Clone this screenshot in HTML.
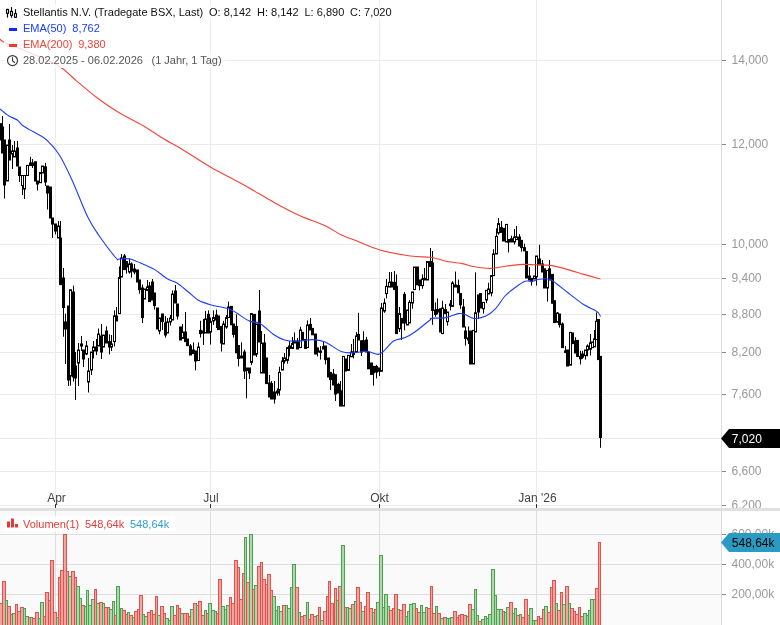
<!DOCTYPE html>
<html lang="de"><head><meta charset="utf-8"><title>Stellantis N.V. Chart</title>
<style>
html,body{margin:0;padding:0;background:#fff;}
body{width:780px;height:625px;overflow:hidden;font-family:"Liberation Sans",Arial,sans-serif;}
svg{display:block;font-family:"Liberation Sans",Arial,sans-serif;}
.ax{font-size:12px;fill:#999;}
.tx{font-size:12px;fill:#444;}
.lg{font-size:11px;}
</style></head><body>
<svg width="780" height="625" viewBox="0 0 780 625">
<rect x="0" y="0" width="780" height="625" fill="#fff"/>
<rect x="0" y="511" width="722" height="114" fill="#fafafa"/>
<g stroke="#ebebeb" stroke-width="1" shape-rendering="crispEdges">
<line x1="0" y1="60.5" x2="721.5" y2="60.5"/>
<line x1="0" y1="144.5" x2="721.5" y2="144.5"/>
<line x1="0" y1="244.5" x2="721.5" y2="244.5"/>
<line x1="0" y1="278.5" x2="721.5" y2="278.5"/>
<line x1="0" y1="314.5" x2="721.5" y2="314.5"/>
<line x1="0" y1="352.5" x2="721.5" y2="352.5"/>
<line x1="0" y1="394.5" x2="721.5" y2="394.5"/>
<line x1="0" y1="438.5" x2="721.5" y2="438.5"/>
<line x1="0" y1="471.5" x2="721.5" y2="471.5"/>
<line x1="0" y1="505.5" x2="721.5" y2="505.5"/>
<line x1="55.5" y1="0" x2="55.5" y2="508"/>
<line x1="210.5" y1="0" x2="210.5" y2="508"/>
<line x1="379.5" y1="0" x2="379.5" y2="508"/>
<line x1="536.5" y1="0" x2="536.5" y2="508"/>
</g>
<g stroke="#dedede" stroke-width="1" shape-rendering="crispEdges">
<line x1="0" y1="534.5" x2="721.5" y2="534.5"/>
<line x1="0" y1="564.5" x2="721.5" y2="564.5"/>
<line x1="0" y1="594.5" x2="721.5" y2="594.5"/>
<line x1="55.5" y1="511" x2="55.5" y2="625"/>
<line x1="210.5" y1="511" x2="210.5" y2="625"/>
<line x1="379.5" y1="511" x2="379.5" y2="625"/>
<line x1="536.5" y1="511" x2="536.5" y2="625"/>
</g>
<g stroke-width="1">
<rect x="-0.5" y="603.5" width="3" height="23.5" fill="#f2a4a2" stroke="#e0524a"/>
<rect x="2.5" y="581.5" width="3" height="45.5" fill="#f2a4a2" stroke="#e0524a"/>
<rect x="5.5" y="600.5" width="2" height="26.5" fill="#abd9aa" stroke="#4f9f50"/>
<rect x="7.5" y="606.5" width="3" height="20.5" fill="#f2a4a2" stroke="#e0524a"/>
<rect x="10.5" y="614.5" width="2" height="12.5" fill="#f2a4a2" stroke="#e0524a"/>
<rect x="12.5" y="613.5" width="3" height="13.5" fill="#abd9aa" stroke="#4f9f50"/>
<rect x="15.5" y="604.5" width="2" height="22.5" fill="#f2a4a2" stroke="#e0524a"/>
<rect x="17.5" y="611.5" width="3" height="15.5" fill="#f2a4a2" stroke="#e0524a"/>
<rect x="20.5" y="607.5" width="3" height="19.5" fill="#f2a4a2" stroke="#e0524a"/>
<rect x="23.5" y="608.5" width="2" height="18.5" fill="#abd9aa" stroke="#4f9f50"/>
<rect x="25.5" y="616.5" width="3" height="10.5" fill="#abd9aa" stroke="#4f9f50"/>
<rect x="28.5" y="617.5" width="2" height="9.5" fill="#f2a4a2" stroke="#e0524a"/>
<rect x="30.5" y="617.5" width="2" height="9.5" fill="#abd9aa" stroke="#4f9f50"/>
<rect x="32.5" y="618.5" width="3" height="8.5" fill="#f2a4a2" stroke="#e0524a"/>
<rect x="35.5" y="612.5" width="3" height="14.5" fill="#f2a4a2" stroke="#e0524a"/>
<rect x="38.5" y="618.5" width="2" height="8.5" fill="#abd9aa" stroke="#4f9f50"/>
<rect x="40.5" y="602.5" width="3" height="24.5" fill="#abd9aa" stroke="#4f9f50"/>
<rect x="43.5" y="616.5" width="2" height="10.5" fill="#f2a4a2" stroke="#e0524a"/>
<rect x="45.5" y="592.5" width="3" height="34.5" fill="#f2a4a2" stroke="#e0524a"/>
<rect x="48.5" y="600.5" width="2" height="26.5" fill="#f2a4a2" stroke="#e0524a"/>
<rect x="50.5" y="560.5" width="3" height="66.5" fill="#f2a4a2" stroke="#e0524a"/>
<rect x="53.5" y="612.5" width="3" height="14.5" fill="#f2a4a2" stroke="#e0524a"/>
<rect x="56.5" y="617.5" width="2" height="9.5" fill="#abd9aa" stroke="#4f9f50"/>
<rect x="58.5" y="577.5" width="2" height="49.5" fill="#f2a4a2" stroke="#e0524a"/>
<rect x="60.5" y="570.5" width="3" height="56.5" fill="#f2a4a2" stroke="#e0524a"/>
<rect x="63.5" y="534.5" width="3" height="92.5" fill="#f2a4a2" stroke="#e0524a"/>
<rect x="66.5" y="571.5" width="2" height="55.5" fill="#f2a4a2" stroke="#e0524a"/>
<rect x="68.5" y="576.5" width="3" height="50.5" fill="#abd9aa" stroke="#4f9f50"/>
<rect x="71.5" y="571.5" width="3" height="55.5" fill="#f2a4a2" stroke="#e0524a"/>
<rect x="74.5" y="577.5" width="2" height="49.5" fill="#f2a4a2" stroke="#e0524a"/>
<rect x="76.5" y="586.5" width="3" height="40.5" fill="#abd9aa" stroke="#4f9f50"/>
<rect x="79.5" y="598.5" width="2" height="28.5" fill="#abd9aa" stroke="#4f9f50"/>
<rect x="81.5" y="605.5" width="3" height="21.5" fill="#f2a4a2" stroke="#e0524a"/>
<rect x="84.5" y="606.5" width="2" height="20.5" fill="#abd9aa" stroke="#4f9f50"/>
<rect x="86.5" y="590.5" width="2" height="36.5" fill="#abd9aa" stroke="#4f9f50"/>
<rect x="88.5" y="605.5" width="3" height="21.5" fill="#abd9aa" stroke="#4f9f50"/>
<rect x="91.5" y="599.5" width="3" height="27.5" fill="#abd9aa" stroke="#4f9f50"/>
<rect x="94.5" y="589.5" width="2" height="37.5" fill="#f2a4a2" stroke="#e0524a"/>
<rect x="96.5" y="603.5" width="3" height="23.5" fill="#abd9aa" stroke="#4f9f50"/>
<rect x="99.5" y="602.5" width="3" height="24.5" fill="#f2a4a2" stroke="#e0524a"/>
<rect x="102.5" y="603.5" width="2" height="23.5" fill="#abd9aa" stroke="#4f9f50"/>
<rect x="104.5" y="607.5" width="3" height="19.5" fill="#f2a4a2" stroke="#e0524a"/>
<rect x="107.5" y="607.5" width="2" height="19.5" fill="#f2a4a2" stroke="#e0524a"/>
<rect x="109.5" y="609.5" width="3" height="17.5" fill="#abd9aa" stroke="#4f9f50"/>
<rect x="112.5" y="601.5" width="2" height="25.5" fill="#abd9aa" stroke="#4f9f50"/>
<rect x="114.5" y="615.5" width="2" height="11.5" fill="#f2a4a2" stroke="#e0524a"/>
<rect x="116.5" y="586.5" width="3" height="40.5" fill="#abd9aa" stroke="#4f9f50"/>
<rect x="120.5" y="608.5" width="2" height="18.5" fill="#abd9aa" stroke="#4f9f50"/>
<rect x="122.5" y="610.5" width="3" height="16.5" fill="#f2a4a2" stroke="#e0524a"/>
<rect x="125.5" y="614.5" width="2" height="12.5" fill="#f2a4a2" stroke="#e0524a"/>
<rect x="127.5" y="612.5" width="2" height="14.5" fill="#abd9aa" stroke="#4f9f50"/>
<rect x="129.5" y="615.5" width="3" height="11.5" fill="#f2a4a2" stroke="#e0524a"/>
<rect x="132.5" y="617.5" width="2" height="9.5" fill="#abd9aa" stroke="#4f9f50"/>
<rect x="134.5" y="611.5" width="3" height="15.5" fill="#f2a4a2" stroke="#e0524a"/>
<rect x="137.5" y="609.5" width="2" height="17.5" fill="#f2a4a2" stroke="#e0524a"/>
<rect x="139.5" y="595.5" width="3" height="31.5" fill="#f2a4a2" stroke="#e0524a"/>
<rect x="142.5" y="614.5" width="2" height="12.5" fill="#abd9aa" stroke="#4f9f50"/>
<rect x="144.5" y="616.5" width="3" height="10.5" fill="#abd9aa" stroke="#4f9f50"/>
<rect x="147.5" y="612.5" width="3" height="14.5" fill="#f2a4a2" stroke="#e0524a"/>
<rect x="150.5" y="610.5" width="2" height="16.5" fill="#f2a4a2" stroke="#e0524a"/>
<rect x="152.5" y="614.5" width="3" height="12.5" fill="#f2a4a2" stroke="#e0524a"/>
<rect x="155.5" y="596.5" width="2" height="30.5" fill="#f2a4a2" stroke="#e0524a"/>
<rect x="157.5" y="615.5" width="3" height="11.5" fill="#abd9aa" stroke="#4f9f50"/>
<rect x="160.5" y="606.5" width="3" height="20.5" fill="#f2a4a2" stroke="#e0524a"/>
<rect x="163.5" y="613.5" width="2" height="13.5" fill="#f2a4a2" stroke="#e0524a"/>
<rect x="165.5" y="618.5" width="3" height="8.5" fill="#abd9aa" stroke="#4f9f50"/>
<rect x="168.5" y="620.5" width="2" height="6.5" fill="#abd9aa" stroke="#4f9f50"/>
<rect x="170.5" y="606.5" width="3" height="20.5" fill="#abd9aa" stroke="#4f9f50"/>
<rect x="173.5" y="615.5" width="3" height="11.5" fill="#f2a4a2" stroke="#e0524a"/>
<rect x="176.5" y="605.5" width="2" height="21.5" fill="#f2a4a2" stroke="#e0524a"/>
<rect x="178.5" y="608.5" width="2" height="18.5" fill="#f2a4a2" stroke="#e0524a"/>
<rect x="180.5" y="613.5" width="3" height="13.5" fill="#abd9aa" stroke="#4f9f50"/>
<rect x="183.5" y="613.5" width="3" height="13.5" fill="#f2a4a2" stroke="#e0524a"/>
<rect x="186.5" y="613.5" width="2" height="13.5" fill="#f2a4a2" stroke="#e0524a"/>
<rect x="188.5" y="616.5" width="2" height="10.5" fill="#f2a4a2" stroke="#e0524a"/>
<rect x="190.5" y="609.5" width="3" height="17.5" fill="#abd9aa" stroke="#4f9f50"/>
<rect x="193.5" y="603.5" width="3" height="23.5" fill="#f2a4a2" stroke="#e0524a"/>
<rect x="196.5" y="605.5" width="2" height="21.5" fill="#abd9aa" stroke="#4f9f50"/>
<rect x="198.5" y="601.5" width="3" height="25.5" fill="#f2a4a2" stroke="#e0524a"/>
<rect x="201.5" y="615.5" width="3" height="11.5" fill="#f2a4a2" stroke="#e0524a"/>
<rect x="204.5" y="610.5" width="2" height="16.5" fill="#abd9aa" stroke="#4f9f50"/>
<rect x="206.5" y="613.5" width="2" height="13.5" fill="#f2a4a2" stroke="#e0524a"/>
<rect x="208.5" y="603.5" width="3" height="23.5" fill="#abd9aa" stroke="#4f9f50"/>
<rect x="211.5" y="610.5" width="3" height="16.5" fill="#abd9aa" stroke="#4f9f50"/>
<rect x="214.5" y="611.5" width="2" height="15.5" fill="#abd9aa" stroke="#4f9f50"/>
<rect x="216.5" y="613.5" width="2" height="13.5" fill="#f2a4a2" stroke="#e0524a"/>
<rect x="218.5" y="579.5" width="3" height="47.5" fill="#f2a4a2" stroke="#e0524a"/>
<rect x="221.5" y="606.5" width="3" height="20.5" fill="#abd9aa" stroke="#4f9f50"/>
<rect x="224.5" y="609.5" width="2" height="17.5" fill="#abd9aa" stroke="#4f9f50"/>
<rect x="226.5" y="605.5" width="3" height="21.5" fill="#abd9aa" stroke="#4f9f50"/>
<rect x="229.5" y="597.5" width="2" height="29.5" fill="#f2a4a2" stroke="#e0524a"/>
<rect x="231.5" y="603.5" width="3" height="23.5" fill="#f2a4a2" stroke="#e0524a"/>
<rect x="234.5" y="560.5" width="3" height="66.5" fill="#f2a4a2" stroke="#e0524a"/>
<rect x="237.5" y="567.5" width="2" height="59.5" fill="#f2a4a2" stroke="#e0524a"/>
<rect x="239.5" y="599.5" width="3" height="27.5" fill="#f2a4a2" stroke="#e0524a"/>
<rect x="242.5" y="573.5" width="2" height="53.5" fill="#f2a4a2" stroke="#e0524a"/>
<rect x="244.5" y="537.5" width="2" height="89.5" fill="#abd9aa" stroke="#4f9f50"/>
<rect x="246.5" y="582.5" width="3" height="44.5" fill="#f2a4a2" stroke="#e0524a"/>
<rect x="249.5" y="534.5" width="3" height="92.5" fill="#abd9aa" stroke="#4f9f50"/>
<rect x="252.5" y="589.5" width="2" height="37.5" fill="#f2a4a2" stroke="#e0524a"/>
<rect x="254.5" y="585.5" width="3" height="41.5" fill="#abd9aa" stroke="#4f9f50"/>
<rect x="257.5" y="566.5" width="3" height="60.5" fill="#f2a4a2" stroke="#e0524a"/>
<rect x="260.5" y="562.5" width="2" height="64.5" fill="#f2a4a2" stroke="#e0524a"/>
<rect x="262.5" y="579.5" width="3" height="47.5" fill="#f2a4a2" stroke="#e0524a"/>
<rect x="265.5" y="584.5" width="2" height="42.5" fill="#f2a4a2" stroke="#e0524a"/>
<rect x="267.5" y="574.5" width="3" height="52.5" fill="#f2a4a2" stroke="#e0524a"/>
<rect x="270.5" y="590.5" width="2" height="36.5" fill="#f2a4a2" stroke="#e0524a"/>
<rect x="272.5" y="596.5" width="3" height="30.5" fill="#abd9aa" stroke="#4f9f50"/>
<rect x="275.5" y="610.5" width="2" height="16.5" fill="#abd9aa" stroke="#4f9f50"/>
<rect x="277.5" y="606.5" width="2" height="20.5" fill="#abd9aa" stroke="#4f9f50"/>
<rect x="279.5" y="611.5" width="3" height="15.5" fill="#abd9aa" stroke="#4f9f50"/>
<rect x="282.5" y="605.5" width="3" height="21.5" fill="#f2a4a2" stroke="#e0524a"/>
<rect x="285.5" y="605.5" width="2" height="21.5" fill="#abd9aa" stroke="#4f9f50"/>
<rect x="287.5" y="608.5" width="3" height="18.5" fill="#abd9aa" stroke="#4f9f50"/>
<rect x="290.5" y="587.5" width="2" height="39.5" fill="#abd9aa" stroke="#4f9f50"/>
<rect x="292.5" y="564.5" width="3" height="62.5" fill="#abd9aa" stroke="#4f9f50"/>
<rect x="295.5" y="587.5" width="3" height="39.5" fill="#f2a4a2" stroke="#e0524a"/>
<rect x="298.5" y="612.5" width="2" height="14.5" fill="#abd9aa" stroke="#4f9f50"/>
<rect x="300.5" y="616.5" width="3" height="10.5" fill="#f2a4a2" stroke="#e0524a"/>
<rect x="303.5" y="615.5" width="3" height="11.5" fill="#f2a4a2" stroke="#e0524a"/>
<rect x="306.5" y="602.5" width="2" height="24.5" fill="#abd9aa" stroke="#4f9f50"/>
<rect x="308.5" y="619.5" width="2" height="7.5" fill="#f2a4a2" stroke="#e0524a"/>
<rect x="310.5" y="614.5" width="3" height="12.5" fill="#f2a4a2" stroke="#e0524a"/>
<rect x="313.5" y="616.5" width="3" height="10.5" fill="#f2a4a2" stroke="#e0524a"/>
<rect x="316.5" y="615.5" width="2" height="11.5" fill="#abd9aa" stroke="#4f9f50"/>
<rect x="318.5" y="607.5" width="2" height="19.5" fill="#f2a4a2" stroke="#e0524a"/>
<rect x="320.5" y="620.5" width="3" height="6.5" fill="#abd9aa" stroke="#4f9f50"/>
<rect x="323.5" y="611.5" width="3" height="15.5" fill="#f2a4a2" stroke="#e0524a"/>
<rect x="326.5" y="596.5" width="2" height="30.5" fill="#f2a4a2" stroke="#e0524a"/>
<rect x="328.5" y="581.5" width="2" height="45.5" fill="#f2a4a2" stroke="#e0524a"/>
<rect x="330.5" y="603.5" width="3" height="23.5" fill="#f2a4a2" stroke="#e0524a"/>
<rect x="334.5" y="588.5" width="2" height="38.5" fill="#f2a4a2" stroke="#e0524a"/>
<rect x="336.5" y="600.5" width="2" height="26.5" fill="#abd9aa" stroke="#4f9f50"/>
<rect x="338.5" y="586.5" width="3" height="40.5" fill="#f2a4a2" stroke="#e0524a"/>
<rect x="341.5" y="545.5" width="3" height="81.5" fill="#abd9aa" stroke="#4f9f50"/>
<rect x="344.5" y="607.5" width="2" height="19.5" fill="#f2a4a2" stroke="#e0524a"/>
<rect x="346.5" y="607.5" width="2" height="19.5" fill="#abd9aa" stroke="#4f9f50"/>
<rect x="348.5" y="608.5" width="3" height="18.5" fill="#abd9aa" stroke="#4f9f50"/>
<rect x="351.5" y="604.5" width="3" height="22.5" fill="#f2a4a2" stroke="#e0524a"/>
<rect x="354.5" y="601.5" width="2" height="25.5" fill="#abd9aa" stroke="#4f9f50"/>
<rect x="356.5" y="587.5" width="3" height="39.5" fill="#f2a4a2" stroke="#e0524a"/>
<rect x="359.5" y="602.5" width="2" height="24.5" fill="#f2a4a2" stroke="#e0524a"/>
<rect x="361.5" y="611.5" width="3" height="15.5" fill="#abd9aa" stroke="#4f9f50"/>
<rect x="364.5" y="606.5" width="2" height="20.5" fill="#f2a4a2" stroke="#e0524a"/>
<rect x="366.5" y="592.5" width="3" height="34.5" fill="#f2a4a2" stroke="#e0524a"/>
<rect x="369.5" y="608.5" width="3" height="18.5" fill="#f2a4a2" stroke="#e0524a"/>
<rect x="372.5" y="612.5" width="2" height="14.5" fill="#abd9aa" stroke="#4f9f50"/>
<rect x="374.5" y="609.5" width="2" height="17.5" fill="#f2a4a2" stroke="#e0524a"/>
<rect x="376.5" y="602.5" width="3" height="24.5" fill="#abd9aa" stroke="#4f9f50"/>
<rect x="379.5" y="555.5" width="3" height="71.5" fill="#abd9aa" stroke="#4f9f50"/>
<rect x="382.5" y="607.5" width="2" height="19.5" fill="#abd9aa" stroke="#4f9f50"/>
<rect x="384.5" y="594.5" width="3" height="32.5" fill="#abd9aa" stroke="#4f9f50"/>
<rect x="387.5" y="606.5" width="2" height="20.5" fill="#abd9aa" stroke="#4f9f50"/>
<rect x="389.5" y="610.5" width="3" height="16.5" fill="#f2a4a2" stroke="#e0524a"/>
<rect x="392.5" y="608.5" width="2" height="18.5" fill="#f2a4a2" stroke="#e0524a"/>
<rect x="394.5" y="594.5" width="3" height="32.5" fill="#f2a4a2" stroke="#e0524a"/>
<rect x="397.5" y="609.5" width="2" height="17.5" fill="#abd9aa" stroke="#4f9f50"/>
<rect x="399.5" y="610.5" width="3" height="16.5" fill="#f2a4a2" stroke="#e0524a"/>
<rect x="402.5" y="604.5" width="3" height="22.5" fill="#f2a4a2" stroke="#e0524a"/>
<rect x="405.5" y="616.5" width="2" height="10.5" fill="#abd9aa" stroke="#4f9f50"/>
<rect x="407.5" y="611.5" width="2" height="15.5" fill="#abd9aa" stroke="#4f9f50"/>
<rect x="409.5" y="604.5" width="3" height="22.5" fill="#abd9aa" stroke="#4f9f50"/>
<rect x="412.5" y="603.5" width="3" height="23.5" fill="#abd9aa" stroke="#4f9f50"/>
<rect x="415.5" y="608.5" width="2" height="18.5" fill="#f2a4a2" stroke="#e0524a"/>
<rect x="417.5" y="612.5" width="3" height="14.5" fill="#f2a4a2" stroke="#e0524a"/>
<rect x="420.5" y="605.5" width="2" height="21.5" fill="#abd9aa" stroke="#4f9f50"/>
<rect x="422.5" y="612.5" width="3" height="14.5" fill="#abd9aa" stroke="#4f9f50"/>
<rect x="425.5" y="607.5" width="2" height="19.5" fill="#abd9aa" stroke="#4f9f50"/>
<rect x="427.5" y="608.5" width="3" height="18.5" fill="#f2a4a2" stroke="#e0524a"/>
<rect x="430.5" y="586.5" width="2" height="40.5" fill="#f2a4a2" stroke="#e0524a"/>
<rect x="432.5" y="613.5" width="3" height="13.5" fill="#f2a4a2" stroke="#e0524a"/>
<rect x="435.5" y="606.5" width="2" height="20.5" fill="#abd9aa" stroke="#4f9f50"/>
<rect x="437.5" y="613.5" width="3" height="13.5" fill="#f2a4a2" stroke="#e0524a"/>
<rect x="440.5" y="618.5" width="3" height="8.5" fill="#abd9aa" stroke="#4f9f50"/>
<rect x="443.5" y="617.5" width="3" height="9.5" fill="#f2a4a2" stroke="#e0524a"/>
<rect x="446.5" y="618.5" width="2" height="8.5" fill="#abd9aa" stroke="#4f9f50"/>
<rect x="448.5" y="618.5" width="2" height="8.5" fill="#abd9aa" stroke="#4f9f50"/>
<rect x="450.5" y="617.5" width="3" height="9.5" fill="#abd9aa" stroke="#4f9f50"/>
<rect x="453.5" y="611.5" width="3" height="15.5" fill="#f2a4a2" stroke="#e0524a"/>
<rect x="456.5" y="617.5" width="2" height="9.5" fill="#f2a4a2" stroke="#e0524a"/>
<rect x="458.5" y="615.5" width="2" height="11.5" fill="#f2a4a2" stroke="#e0524a"/>
<rect x="460.5" y="614.5" width="3" height="12.5" fill="#f2a4a2" stroke="#e0524a"/>
<rect x="463.5" y="615.5" width="3" height="11.5" fill="#f2a4a2" stroke="#e0524a"/>
<rect x="466.5" y="616.5" width="2" height="10.5" fill="#abd9aa" stroke="#4f9f50"/>
<rect x="468.5" y="604.5" width="3" height="22.5" fill="#f2a4a2" stroke="#e0524a"/>
<rect x="471.5" y="609.5" width="3" height="17.5" fill="#abd9aa" stroke="#4f9f50"/>
<rect x="474.5" y="589.5" width="2" height="37.5" fill="#abd9aa" stroke="#4f9f50"/>
<rect x="476.5" y="615.5" width="2" height="11.5" fill="#abd9aa" stroke="#4f9f50"/>
<rect x="478.5" y="621.5" width="3" height="5.5" fill="#f2a4a2" stroke="#e0524a"/>
<rect x="481.5" y="619.5" width="3" height="7.5" fill="#abd9aa" stroke="#4f9f50"/>
<rect x="484.5" y="616.5" width="2" height="10.5" fill="#abd9aa" stroke="#4f9f50"/>
<rect x="486.5" y="618.5" width="2" height="8.5" fill="#abd9aa" stroke="#4f9f50"/>
<rect x="488.5" y="614.5" width="3" height="12.5" fill="#abd9aa" stroke="#4f9f50"/>
<rect x="491.5" y="569.5" width="3" height="57.5" fill="#abd9aa" stroke="#4f9f50"/>
<rect x="494.5" y="595.5" width="2" height="31.5" fill="#abd9aa" stroke="#4f9f50"/>
<rect x="496.5" y="609.5" width="3" height="17.5" fill="#abd9aa" stroke="#4f9f50"/>
<rect x="499.5" y="609.5" width="3" height="17.5" fill="#abd9aa" stroke="#4f9f50"/>
<rect x="502.5" y="611.5" width="2" height="15.5" fill="#f2a4a2" stroke="#e0524a"/>
<rect x="504.5" y="612.5" width="2" height="14.5" fill="#abd9aa" stroke="#4f9f50"/>
<rect x="506.5" y="607.5" width="3" height="19.5" fill="#abd9aa" stroke="#4f9f50"/>
<rect x="509.5" y="602.5" width="3" height="24.5" fill="#f2a4a2" stroke="#e0524a"/>
<rect x="512.5" y="613.5" width="2" height="13.5" fill="#abd9aa" stroke="#4f9f50"/>
<rect x="514.5" y="608.5" width="2" height="18.5" fill="#abd9aa" stroke="#4f9f50"/>
<rect x="516.5" y="615.5" width="3" height="11.5" fill="#f2a4a2" stroke="#e0524a"/>
<rect x="519.5" y="614.5" width="2" height="12.5" fill="#abd9aa" stroke="#4f9f50"/>
<rect x="521.5" y="617.5" width="3" height="9.5" fill="#f2a4a2" stroke="#e0524a"/>
<rect x="524.5" y="599.5" width="3" height="27.5" fill="#f2a4a2" stroke="#e0524a"/>
<rect x="527.5" y="615.5" width="2" height="11.5" fill="#f2a4a2" stroke="#e0524a"/>
<rect x="529.5" y="608.5" width="3" height="18.5" fill="#abd9aa" stroke="#4f9f50"/>
<rect x="532.5" y="620.5" width="2" height="6.5" fill="#abd9aa" stroke="#4f9f50"/>
<rect x="534.5" y="620.5" width="3" height="6.5" fill="#abd9aa" stroke="#4f9f50"/>
<rect x="537.5" y="616.5" width="2" height="10.5" fill="#f2a4a2" stroke="#e0524a"/>
<rect x="539.5" y="618.5" width="3" height="8.5" fill="#f2a4a2" stroke="#e0524a"/>
<rect x="542.5" y="609.5" width="2" height="17.5" fill="#f2a4a2" stroke="#e0524a"/>
<rect x="544.5" y="606.5" width="3" height="20.5" fill="#abd9aa" stroke="#4f9f50"/>
<rect x="547.5" y="612.5" width="3" height="14.5" fill="#f2a4a2" stroke="#e0524a"/>
<rect x="550.5" y="587.5" width="2" height="39.5" fill="#f2a4a2" stroke="#e0524a"/>
<rect x="552.5" y="580.5" width="3" height="46.5" fill="#f2a4a2" stroke="#e0524a"/>
<rect x="555.5" y="603.5" width="2" height="23.5" fill="#abd9aa" stroke="#4f9f50"/>
<rect x="557.5" y="610.5" width="3" height="16.5" fill="#f2a4a2" stroke="#e0524a"/>
<rect x="560.5" y="592.5" width="2" height="34.5" fill="#f2a4a2" stroke="#e0524a"/>
<rect x="562.5" y="604.5" width="3" height="22.5" fill="#abd9aa" stroke="#4f9f50"/>
<rect x="565.5" y="586.5" width="3" height="40.5" fill="#f2a4a2" stroke="#e0524a"/>
<rect x="568.5" y="603.5" width="2" height="23.5" fill="#abd9aa" stroke="#4f9f50"/>
<rect x="570.5" y="608.5" width="3" height="18.5" fill="#f2a4a2" stroke="#e0524a"/>
<rect x="573.5" y="611.5" width="2" height="15.5" fill="#f2a4a2" stroke="#e0524a"/>
<rect x="575.5" y="614.5" width="3" height="12.5" fill="#f2a4a2" stroke="#e0524a"/>
<rect x="578.5" y="607.5" width="2" height="19.5" fill="#f2a4a2" stroke="#e0524a"/>
<rect x="580.5" y="616.5" width="3" height="10.5" fill="#f2a4a2" stroke="#e0524a"/>
<rect x="583.5" y="613.5" width="3" height="13.5" fill="#abd9aa" stroke="#4f9f50"/>
<rect x="586.5" y="615.5" width="2" height="11.5" fill="#abd9aa" stroke="#4f9f50"/>
<rect x="588.5" y="610.5" width="2" height="16.5" fill="#abd9aa" stroke="#4f9f50"/>
<rect x="590.5" y="599.5" width="3" height="27.5" fill="#abd9aa" stroke="#4f9f50"/>
<rect x="593.5" y="599.5" width="2" height="27.5" fill="#abd9aa" stroke="#4f9f50"/>
<rect x="595.5" y="588.5" width="3" height="38.5" fill="#f2a4a2" stroke="#e0524a"/>
<rect x="598.5" y="542.5" width="2" height="84.5" fill="#f2a4a2" stroke="#e0524a"/>
</g>
<g stroke="#000" stroke-width="1">
<line x1="0.5" y1="123.7" x2="0.5" y2="140.0"/>
<rect x="-0.5" y="123.7" width="2" height="16.3" fill="#000"/>
<line x1="2.5" y1="116.0" x2="2.5" y2="153.0"/>
<rect x="1.5" y="127.0" width="2" height="26.0" fill="#000"/>
<line x1="4.5" y1="140.0" x2="4.5" y2="198.5"/>
<rect x="3.5" y="140.0" width="2" height="45.0" fill="#000"/>
<line x1="7.5" y1="145.0" x2="7.5" y2="181.0"/>
<rect x="6.5" y="145.0" width="2" height="36.0" fill="#fff"/>
<line x1="9.5" y1="124.0" x2="9.5" y2="160.0"/>
<rect x="8.5" y="140.0" width="2" height="20.0" fill="#000"/>
<line x1="12.5" y1="145.0" x2="12.5" y2="169.0"/>
<rect x="11.5" y="151.0" width="2" height="3.0" fill="#fff"/>
<line x1="14.5" y1="141.0" x2="14.5" y2="157.0"/>
<rect x="13.5" y="151.0" width="2" height="6.0" fill="#fff"/>
<line x1="17.5" y1="141.0" x2="17.5" y2="166.0"/>
<rect x="16.5" y="148.0" width="2" height="18.0" fill="#000"/>
<line x1="19.5" y1="167.0" x2="19.5" y2="182.0"/>
<rect x="18.5" y="167.0" width="2" height="8.5" fill="#000"/>
<line x1="22.5" y1="175.5" x2="22.5" y2="195.0"/>
<rect x="21.5" y="175.5" width="2" height="10.0" fill="#fff"/>
<line x1="24.5" y1="175.5" x2="24.5" y2="199.0"/>
<rect x="23.5" y="175.5" width="2" height="13.5" fill="#fff"/>
<line x1="27.5" y1="165.4" x2="27.5" y2="175.5"/>
<rect x="26.5" y="165.4" width="2" height="10.1" fill="#fff"/>
<line x1="30.5" y1="156.8" x2="30.5" y2="165.4"/>
<rect x="29.5" y="163.0" width="2" height="2.4" fill="#000"/>
<line x1="32.5" y1="159.0" x2="32.5" y2="168.0"/>
<rect x="31.5" y="163.0" width="2" height="2.4" fill="#000"/>
<line x1="35.5" y1="161.8" x2="35.5" y2="181.0"/>
<rect x="34.5" y="161.8" width="2" height="19.2" fill="#000"/>
<line x1="37.5" y1="181.0" x2="37.5" y2="190.5"/>
<rect x="36.5" y="181.0" width="2" height="3.0" fill="#000"/>
<line x1="40.5" y1="172.6" x2="40.5" y2="182.7"/>
<rect x="39.5" y="172.6" width="2" height="10.1" fill="#fff"/>
<line x1="42.5" y1="166.0" x2="42.5" y2="173.0"/>
<rect x="41.5" y="166.0" width="2" height="7.0" fill="#fff"/>
<line x1="45.5" y1="163.0" x2="45.5" y2="186.0"/>
<rect x="44.5" y="166.8" width="2" height="15.2" fill="#000"/>
<line x1="47.5" y1="186.0" x2="47.5" y2="209.6"/>
<rect x="46.5" y="186.0" width="2" height="7.0" fill="#000"/>
<line x1="50.5" y1="187.0" x2="50.5" y2="218.0"/>
<rect x="49.5" y="187.0" width="2" height="31.0" fill="#000"/>
<line x1="52.5" y1="218.0" x2="52.5" y2="238.0"/>
<rect x="51.5" y="218.0" width="2" height="6.0" fill="#000"/>
<line x1="55.5" y1="224.0" x2="55.5" y2="234.4"/>
<rect x="54.5" y="224.0" width="2" height="7.0" fill="#000"/>
<line x1="58.5" y1="221.0" x2="58.5" y2="238.0"/>
<rect x="57.5" y="226.0" width="2" height="12.0" fill="#fff"/>
<line x1="60.5" y1="221.0" x2="60.5" y2="284.6"/>
<rect x="59.5" y="238.0" width="2" height="46.6" fill="#000"/>
<line x1="63.5" y1="268.0" x2="63.5" y2="336.7"/>
<rect x="62.5" y="278.0" width="2" height="29.5" fill="#000"/>
<line x1="65.5" y1="313.6" x2="65.5" y2="364.0"/>
<rect x="64.5" y="322.0" width="2" height="7.0" fill="#000"/>
<line x1="68.5" y1="306.0" x2="68.5" y2="386.0"/>
<rect x="67.5" y="306.0" width="2" height="74.0" fill="#000"/>
<line x1="70.5" y1="289.8" x2="70.5" y2="385.6"/>
<rect x="69.5" y="289.8" width="2" height="86.2" fill="#fff"/>
<line x1="73.5" y1="285.6" x2="73.5" y2="381.6"/>
<rect x="72.5" y="292.0" width="2" height="85.0" fill="#000"/>
<line x1="75.5" y1="352.0" x2="75.5" y2="400.0"/>
<rect x="74.5" y="366.0" width="2" height="12.0" fill="#000"/>
<line x1="78.5" y1="343.0" x2="78.5" y2="386.0"/>
<rect x="77.5" y="350.0" width="2" height="13.0" fill="#fff"/>
<line x1="81.5" y1="336.0" x2="81.5" y2="351.0"/>
<rect x="80.5" y="344.0" width="2" height="2.0" fill="#fff"/>
<line x1="83.5" y1="350.0" x2="83.5" y2="367.0"/>
<rect x="82.5" y="350.0" width="2" height="9.0" fill="#000"/>
<line x1="86.5" y1="341.0" x2="86.5" y2="355.0"/>
<rect x="85.5" y="346.0" width="2" height="8.0" fill="#fff"/>
<line x1="88.5" y1="358.0" x2="88.5" y2="392.5"/>
<rect x="87.5" y="371.0" width="2" height="11.0" fill="#fff"/>
<line x1="91.5" y1="352.0" x2="91.5" y2="375.0"/>
<rect x="90.5" y="352.0" width="2" height="18.0" fill="#fff"/>
<line x1="93.5" y1="341.0" x2="93.5" y2="358.4"/>
<rect x="92.5" y="347.0" width="2" height="4.0" fill="#fff"/>
<line x1="96.5" y1="339.0" x2="96.5" y2="355.0"/>
<rect x="95.5" y="347.0" width="2" height="4.0" fill="#000"/>
<line x1="98.5" y1="328.5" x2="98.5" y2="346.0"/>
<rect x="97.5" y="334.0" width="2" height="12.0" fill="#fff"/>
<line x1="101.5" y1="324.0" x2="101.5" y2="359.0"/>
<rect x="100.5" y="336.0" width="2" height="16.0" fill="#000"/>
<line x1="103.5" y1="335.0" x2="103.5" y2="347.0"/>
<rect x="102.5" y="335.0" width="2" height="12.0" fill="#fff"/>
<line x1="106.5" y1="326.4" x2="106.5" y2="343.0"/>
<rect x="105.5" y="331.0" width="2" height="12.0" fill="#000"/>
<line x1="109.5" y1="334.4" x2="109.5" y2="354.4"/>
<rect x="108.5" y="341.6" width="2" height="5.4" fill="#000"/>
<line x1="111.5" y1="335.0" x2="111.5" y2="351.0"/>
<rect x="110.5" y="344.0" width="2" height="3.0" fill="#fff"/>
<line x1="114.5" y1="310.4" x2="114.5" y2="346.4"/>
<rect x="113.5" y="316.0" width="2" height="25.6" fill="#fff"/>
<line x1="116.5" y1="307.0" x2="116.5" y2="321.0"/>
<rect x="115.5" y="316.0" width="2" height="5.0" fill="#000"/>
<line x1="119.5" y1="266.4" x2="119.5" y2="313.6"/>
<rect x="118.5" y="277.6" width="2" height="36.0" fill="#fff"/>
<line x1="121.5" y1="254.0" x2="121.5" y2="277.0"/>
<rect x="120.5" y="258.0" width="2" height="19.0" fill="#fff"/>
<line x1="124.5" y1="254.0" x2="124.5" y2="269.6"/>
<rect x="123.5" y="256.0" width="2" height="13.6" fill="#000"/>
<line x1="126.5" y1="261.6" x2="126.5" y2="273.6"/>
<rect x="125.5" y="261.6" width="2" height="5.4" fill="#000"/>
<line x1="129.5" y1="258.4" x2="129.5" y2="273.6"/>
<rect x="128.5" y="264.0" width="2" height="8.0" fill="#fff"/>
<line x1="131.5" y1="262.4" x2="131.5" y2="277.6"/>
<rect x="130.5" y="264.0" width="2" height="7.0" fill="#000"/>
<line x1="134.5" y1="264.0" x2="134.5" y2="274.4"/>
<rect x="133.5" y="269.0" width="2" height="3.0" fill="#000"/>
<line x1="137.5" y1="270.0" x2="137.5" y2="282.0"/>
<rect x="136.5" y="270.0" width="2" height="12.0" fill="#000"/>
<line x1="139.5" y1="280.0" x2="139.5" y2="293.6"/>
<rect x="138.5" y="280.0" width="2" height="9.6" fill="#000"/>
<line x1="142.5" y1="284.5" x2="142.5" y2="323.0"/>
<rect x="141.5" y="288.0" width="2" height="29.6" fill="#000"/>
<line x1="144.5" y1="289.0" x2="144.5" y2="299.0"/>
<rect x="143.5" y="289.0" width="2" height="10.0" fill="#fff"/>
<line x1="147.5" y1="280.0" x2="147.5" y2="290.4"/>
<rect x="146.5" y="287.0" width="2" height="3.4" fill="#fff"/>
<line x1="149.5" y1="282.0" x2="149.5" y2="301.6"/>
<rect x="148.5" y="286.0" width="2" height="15.6" fill="#000"/>
<line x1="152.5" y1="279.0" x2="152.5" y2="300.0"/>
<rect x="151.5" y="282.0" width="2" height="18.0" fill="#000"/>
<line x1="154.5" y1="293.0" x2="154.5" y2="309.6"/>
<rect x="153.5" y="293.0" width="2" height="12.6" fill="#000"/>
<line x1="157.5" y1="308.0" x2="157.5" y2="329.0"/>
<rect x="156.5" y="308.0" width="2" height="21.0" fill="#000"/>
<line x1="159.5" y1="318.0" x2="159.5" y2="334.4"/>
<rect x="158.5" y="318.0" width="2" height="13.0" fill="#fff"/>
<line x1="162.5" y1="314.0" x2="162.5" y2="330.0"/>
<rect x="161.5" y="314.0" width="2" height="7.6" fill="#000"/>
<line x1="165.5" y1="316.0" x2="165.5" y2="337.6"/>
<rect x="164.5" y="323.0" width="2" height="12.0" fill="#000"/>
<line x1="167.5" y1="318.0" x2="167.5" y2="333.0"/>
<rect x="166.5" y="322.0" width="2" height="11.0" fill="#fff"/>
<line x1="170.5" y1="315.0" x2="170.5" y2="325.6"/>
<rect x="169.5" y="318.0" width="2" height="4.0" fill="#fff"/>
<line x1="172.5" y1="290.4" x2="172.5" y2="320.0"/>
<rect x="171.5" y="294.0" width="2" height="26.0" fill="#fff"/>
<line x1="175.5" y1="285.0" x2="175.5" y2="303.0"/>
<rect x="174.5" y="291.0" width="2" height="12.0" fill="#000"/>
<line x1="177.5" y1="304.0" x2="177.5" y2="319.5"/>
<rect x="176.5" y="304.0" width="2" height="12.0" fill="#000"/>
<line x1="180.5" y1="327.0" x2="180.5" y2="340.0"/>
<rect x="179.5" y="327.0" width="2" height="13.0" fill="#000"/>
<line x1="182.5" y1="324.0" x2="182.5" y2="338.4"/>
<rect x="181.5" y="332.0" width="2" height="6.4" fill="#fff"/>
<line x1="185.5" y1="312.0" x2="185.5" y2="341.6"/>
<rect x="184.5" y="332.0" width="2" height="9.6" fill="#000"/>
<line x1="187.5" y1="339.0" x2="187.5" y2="345.6"/>
<rect x="186.5" y="339.0" width="2" height="6.6" fill="#000"/>
<line x1="190.5" y1="344.0" x2="190.5" y2="355.0"/>
<rect x="189.5" y="346.0" width="2" height="9.0" fill="#000"/>
<line x1="193.5" y1="342.4" x2="193.5" y2="353.6"/>
<rect x="192.5" y="350.0" width="2" height="3.6" fill="#000"/>
<line x1="195.5" y1="351.0" x2="195.5" y2="370.4"/>
<rect x="194.5" y="351.0" width="2" height="10.0" fill="#000"/>
<line x1="198.5" y1="342.4" x2="198.5" y2="360.5"/>
<rect x="197.5" y="347.0" width="2" height="13.5" fill="#fff"/>
<line x1="200.5" y1="320.8" x2="200.5" y2="337.6"/>
<rect x="199.5" y="330.4" width="2" height="3.2" fill="#000"/>
<line x1="203.5" y1="319.0" x2="203.5" y2="345.0"/>
<rect x="202.5" y="331.0" width="2" height="2.0" fill="#000"/>
<line x1="205.5" y1="311.0" x2="205.5" y2="333.0"/>
<rect x="204.5" y="319.0" width="2" height="14.0" fill="#fff"/>
<line x1="208.5" y1="310.4" x2="208.5" y2="333.0"/>
<rect x="207.5" y="314.4" width="2" height="18.6" fill="#000"/>
<line x1="210.5" y1="317.6" x2="210.5" y2="344.5"/>
<rect x="209.5" y="321.6" width="2" height="10.4" fill="#fff"/>
<line x1="213.5" y1="310.4" x2="213.5" y2="324.8"/>
<rect x="212.5" y="317.6" width="2" height="3.4" fill="#fff"/>
<line x1="216.5" y1="309.6" x2="216.5" y2="328.0"/>
<rect x="215.5" y="315.0" width="2" height="5.0" fill="#000"/>
<line x1="218.5" y1="316.0" x2="218.5" y2="329.6"/>
<rect x="217.5" y="316.0" width="2" height="13.6" fill="#000"/>
<line x1="221.5" y1="326.4" x2="221.5" y2="351.5"/>
<rect x="220.5" y="326.4" width="2" height="16.6" fill="#000"/>
<line x1="223.5" y1="320.8" x2="223.5" y2="344.0"/>
<rect x="222.5" y="324.0" width="2" height="20.0" fill="#fff"/>
<line x1="226.5" y1="315.0" x2="226.5" y2="328.8"/>
<rect x="225.5" y="317.6" width="2" height="9.4" fill="#fff"/>
<line x1="228.5" y1="301.6" x2="228.5" y2="317.6"/>
<rect x="227.5" y="307.0" width="2" height="10.6" fill="#fff"/>
<line x1="231.5" y1="306.4" x2="231.5" y2="324.8"/>
<rect x="230.5" y="306.4" width="2" height="18.4" fill="#000"/>
<line x1="233.5" y1="324.0" x2="233.5" y2="337.6"/>
<rect x="232.5" y="324.0" width="2" height="10.4" fill="#000"/>
<line x1="236.5" y1="314.4" x2="236.5" y2="352.8"/>
<rect x="235.5" y="326.4" width="2" height="26.4" fill="#000"/>
<line x1="238.5" y1="345.6" x2="238.5" y2="366.4"/>
<rect x="237.5" y="345.6" width="2" height="12.8" fill="#000"/>
<line x1="241.5" y1="342.4" x2="241.5" y2="358.0"/>
<rect x="240.5" y="356.0" width="2" height="2.0" fill="#000"/>
<line x1="244.5" y1="349.6" x2="244.5" y2="379.0"/>
<rect x="243.5" y="352.0" width="2" height="19.0" fill="#000"/>
<line x1="246.5" y1="368.0" x2="246.5" y2="398.4"/>
<rect x="245.5" y="368.0" width="2" height="2.4" fill="#000"/>
<line x1="249.5" y1="368.0" x2="249.5" y2="379.0"/>
<rect x="248.5" y="368.0" width="2" height="5.0" fill="#000"/>
<line x1="251.5" y1="313.6" x2="251.5" y2="365.0"/>
<rect x="250.5" y="313.6" width="2" height="48.8" fill="#fff"/>
<line x1="254.5" y1="314.4" x2="254.5" y2="355.0"/>
<rect x="253.5" y="314.4" width="2" height="40.6" fill="#000"/>
<line x1="256.5" y1="324.0" x2="256.5" y2="357.0"/>
<rect x="255.5" y="324.0" width="2" height="30.0" fill="#fff"/>
<line x1="259.5" y1="290.0" x2="259.5" y2="342.0"/>
<rect x="258.5" y="311.0" width="2" height="31.0" fill="#000"/>
<line x1="261.5" y1="331.0" x2="261.5" y2="373.0"/>
<rect x="260.5" y="343.0" width="2" height="30.0" fill="#fff"/>
<line x1="264.5" y1="334.0" x2="264.5" y2="373.0"/>
<rect x="263.5" y="343.0" width="2" height="30.0" fill="#000"/>
<line x1="266.5" y1="358.0" x2="266.5" y2="383.6"/>
<rect x="265.5" y="358.0" width="2" height="25.6" fill="#000"/>
<line x1="269.5" y1="375.0" x2="269.5" y2="397.0"/>
<rect x="268.5" y="383.0" width="2" height="14.0" fill="#000"/>
<line x1="271.5" y1="381.0" x2="271.5" y2="399.0"/>
<rect x="270.5" y="383.6" width="2" height="15.4" fill="#000"/>
<line x1="274.5" y1="381.0" x2="274.5" y2="403.6"/>
<rect x="273.5" y="392.0" width="2" height="7.0" fill="#000"/>
<line x1="277.5" y1="388.4" x2="277.5" y2="395.6"/>
<rect x="276.5" y="391.0" width="2" height="2.0" fill="#fff"/>
<line x1="279.5" y1="366.8" x2="279.5" y2="395.6"/>
<rect x="278.5" y="372.4" width="2" height="17.6" fill="#fff"/>
<line x1="282.5" y1="357.0" x2="282.5" y2="370.0"/>
<rect x="281.5" y="361.0" width="2" height="9.0" fill="#fff"/>
<line x1="284.5" y1="353.0" x2="284.5" y2="363.6"/>
<rect x="283.5" y="358.0" width="2" height="3.0" fill="#fff"/>
<line x1="287.5" y1="347.6" x2="287.5" y2="363.6"/>
<rect x="286.5" y="347.6" width="2" height="12.8" fill="#fff"/>
<line x1="289.5" y1="341.0" x2="289.5" y2="356.4"/>
<rect x="288.5" y="346.0" width="2" height="2.4" fill="#fff"/>
<line x1="292.5" y1="337.0" x2="292.5" y2="348.4"/>
<rect x="291.5" y="343.6" width="2" height="4.8" fill="#fff"/>
<line x1="294.5" y1="332.4" x2="294.5" y2="343.0"/>
<rect x="293.5" y="341.0" width="2" height="2.0" fill="#000"/>
<line x1="297.5" y1="338.0" x2="297.5" y2="349.0"/>
<rect x="296.5" y="341.0" width="2" height="8.0" fill="#000"/>
<line x1="300.5" y1="326.8" x2="300.5" y2="347.6"/>
<rect x="299.5" y="330.0" width="2" height="17.6" fill="#fff"/>
<line x1="302.5" y1="332.4" x2="302.5" y2="339.6"/>
<rect x="301.5" y="332.4" width="2" height="7.2" fill="#000"/>
<line x1="305.5" y1="339.6" x2="305.5" y2="348.4"/>
<rect x="304.5" y="339.6" width="2" height="8.8" fill="#000"/>
<line x1="307.5" y1="320.4" x2="307.5" y2="347.6"/>
<rect x="306.5" y="325.0" width="2" height="22.6" fill="#fff"/>
<line x1="310.5" y1="318.0" x2="310.5" y2="330.0"/>
<rect x="309.5" y="324.4" width="2" height="5.6" fill="#000"/>
<line x1="312.5" y1="328.4" x2="312.5" y2="334.8"/>
<rect x="311.5" y="328.4" width="2" height="6.4" fill="#000"/>
<line x1="315.5" y1="334.0" x2="315.5" y2="354.0"/>
<rect x="314.5" y="334.0" width="2" height="20.0" fill="#000"/>
<line x1="317.5" y1="347.6" x2="317.5" y2="356.4"/>
<rect x="316.5" y="348.0" width="2" height="4.0" fill="#000"/>
<line x1="320.5" y1="346.0" x2="320.5" y2="359.6"/>
<rect x="319.5" y="351.0" width="2" height="1.4" fill="#000"/>
<line x1="323.5" y1="341.0" x2="323.5" y2="349.0"/>
<rect x="322.5" y="346.8" width="2" height="2.2" fill="#000"/>
<line x1="325.5" y1="346.0" x2="325.5" y2="364.4"/>
<rect x="324.5" y="346.0" width="2" height="13.6" fill="#000"/>
<line x1="328.5" y1="358.0" x2="328.5" y2="377.0"/>
<rect x="327.5" y="358.0" width="2" height="19.0" fill="#000"/>
<line x1="330.5" y1="372.4" x2="330.5" y2="390.0"/>
<rect x="329.5" y="372.4" width="2" height="7.2" fill="#000"/>
<line x1="333.5" y1="369.0" x2="333.5" y2="385.0"/>
<rect x="332.5" y="374.0" width="2" height="11.0" fill="#000"/>
<line x1="335.5" y1="374.8" x2="335.5" y2="401.0"/>
<rect x="334.5" y="374.8" width="2" height="19.2" fill="#000"/>
<line x1="338.5" y1="382.8" x2="338.5" y2="393.0"/>
<rect x="337.5" y="384.4" width="2" height="8.6" fill="#000"/>
<line x1="340.5" y1="381.0" x2="340.5" y2="406.0"/>
<rect x="339.5" y="390.8" width="2" height="15.2" fill="#000"/>
<line x1="343.5" y1="356.4" x2="343.5" y2="406.0"/>
<rect x="342.5" y="356.4" width="2" height="49.6" fill="#fff"/>
<line x1="345.5" y1="359.0" x2="345.5" y2="371.0"/>
<rect x="344.5" y="359.0" width="2" height="12.0" fill="#000"/>
<line x1="348.5" y1="355.4" x2="348.5" y2="370.4"/>
<rect x="347.5" y="355.4" width="2" height="15.0" fill="#fff"/>
<line x1="351.5" y1="344.0" x2="351.5" y2="356.8"/>
<rect x="350.5" y="352.0" width="2" height="4.8" fill="#fff"/>
<line x1="353.5" y1="339.0" x2="353.5" y2="358.4"/>
<rect x="352.5" y="352.0" width="2" height="2.4" fill="#fff"/>
<line x1="356.5" y1="332.0" x2="356.5" y2="352.0"/>
<rect x="355.5" y="336.0" width="2" height="16.0" fill="#fff"/>
<line x1="358.5" y1="312.8" x2="358.5" y2="340.0"/>
<rect x="357.5" y="334.4" width="2" height="5.6" fill="#000"/>
<line x1="361.5" y1="340.8" x2="361.5" y2="356.0"/>
<rect x="360.5" y="340.8" width="2" height="11.2" fill="#000"/>
<line x1="363.5" y1="331.2" x2="363.5" y2="350.4"/>
<rect x="362.5" y="340.8" width="2" height="9.6" fill="#000"/>
<line x1="366.5" y1="336.8" x2="366.5" y2="352.0"/>
<rect x="365.5" y="340.0" width="2" height="12.0" fill="#000"/>
<line x1="368.5" y1="352.0" x2="368.5" y2="368.8"/>
<rect x="367.5" y="352.0" width="2" height="16.8" fill="#000"/>
<line x1="371.5" y1="363.0" x2="371.5" y2="374.4"/>
<rect x="370.5" y="363.0" width="2" height="11.4" fill="#000"/>
<line x1="373.5" y1="366.4" x2="373.5" y2="385.6"/>
<rect x="372.5" y="366.4" width="2" height="6.4" fill="#000"/>
<line x1="376.5" y1="364.8" x2="376.5" y2="378.4"/>
<rect x="375.5" y="366.4" width="2" height="5.6" fill="#000"/>
<line x1="379.5" y1="368.0" x2="379.5" y2="376.0"/>
<rect x="378.5" y="368.0" width="2" height="3.2" fill="#000"/>
<line x1="381.5" y1="303.0" x2="381.5" y2="371.2"/>
<rect x="380.5" y="308.0" width="2" height="63.2" fill="#fff"/>
<line x1="384.5" y1="298.4" x2="384.5" y2="312.8"/>
<rect x="383.5" y="303.0" width="2" height="8.0" fill="#fff"/>
<line x1="386.5" y1="279.0" x2="386.5" y2="298.4"/>
<rect x="385.5" y="286.4" width="2" height="7.2" fill="#fff"/>
<line x1="389.5" y1="272.0" x2="389.5" y2="287.0"/>
<rect x="388.5" y="282.4" width="2" height="4.6" fill="#fff"/>
<line x1="391.5" y1="272.0" x2="391.5" y2="287.0"/>
<rect x="390.5" y="282.0" width="2" height="5.0" fill="#000"/>
<line x1="394.5" y1="271.0" x2="394.5" y2="289.6"/>
<rect x="393.5" y="282.4" width="2" height="7.2" fill="#000"/>
<line x1="396.5" y1="274.4" x2="396.5" y2="333.6"/>
<rect x="395.5" y="286.4" width="2" height="47.2" fill="#000"/>
<line x1="399.5" y1="307.0" x2="399.5" y2="332.0"/>
<rect x="398.5" y="313.6" width="2" height="15.2" fill="#fff"/>
<line x1="401.5" y1="318.4" x2="401.5" y2="340.0"/>
<rect x="400.5" y="318.4" width="2" height="4.6" fill="#000"/>
<line x1="404.5" y1="292.0" x2="404.5" y2="330.4"/>
<rect x="403.5" y="294.4" width="2" height="28.6" fill="#000"/>
<line x1="407.5" y1="310.0" x2="407.5" y2="325.0"/>
<rect x="406.5" y="310.0" width="2" height="15.0" fill="#fff"/>
<line x1="409.5" y1="300.0" x2="409.5" y2="323.0"/>
<rect x="408.5" y="302.4" width="2" height="20.6" fill="#fff"/>
<line x1="412.5" y1="292.0" x2="412.5" y2="308.8"/>
<rect x="411.5" y="292.0" width="2" height="11.0" fill="#fff"/>
<line x1="414.5" y1="267.0" x2="414.5" y2="289.6"/>
<rect x="413.5" y="267.0" width="2" height="22.6" fill="#fff"/>
<line x1="417.5" y1="267.0" x2="417.5" y2="284.8"/>
<rect x="416.5" y="267.0" width="2" height="17.8" fill="#000"/>
<line x1="419.5" y1="280.0" x2="419.5" y2="290.4"/>
<rect x="418.5" y="280.0" width="2" height="5.6" fill="#000"/>
<line x1="422.5" y1="274.4" x2="422.5" y2="288.8"/>
<rect x="421.5" y="279.0" width="2" height="6.6" fill="#fff"/>
<line x1="424.5" y1="268.0" x2="424.5" y2="280.0"/>
<rect x="423.5" y="278.4" width="2" height="1.6" fill="#fff"/>
<line x1="427.5" y1="261.6" x2="427.5" y2="280.0"/>
<rect x="426.5" y="261.6" width="2" height="18.4" fill="#fff"/>
<line x1="430.5" y1="248.0" x2="430.5" y2="266.4"/>
<rect x="429.5" y="261.6" width="2" height="4.8" fill="#000"/>
<line x1="432.5" y1="251.0" x2="432.5" y2="324.8"/>
<rect x="431.5" y="263.0" width="2" height="47.4" fill="#000"/>
<line x1="435.5" y1="302.4" x2="435.5" y2="316.8"/>
<rect x="434.5" y="310.0" width="2" height="4.4" fill="#000"/>
<line x1="437.5" y1="298.4" x2="437.5" y2="314.4"/>
<rect x="436.5" y="309.6" width="2" height="2.4" fill="#000"/>
<line x1="440.5" y1="308.8" x2="440.5" y2="332.0"/>
<rect x="439.5" y="308.8" width="2" height="23.2" fill="#000"/>
<line x1="442.5" y1="300.8" x2="442.5" y2="333.6"/>
<rect x="441.5" y="308.0" width="2" height="25.6" fill="#fff"/>
<line x1="445.5" y1="304.0" x2="445.5" y2="313.6"/>
<rect x="444.5" y="309.6" width="2" height="4.0" fill="#000"/>
<line x1="447.5" y1="312.0" x2="447.5" y2="325.6"/>
<rect x="446.5" y="312.0" width="2" height="9.6" fill="#fff"/>
<line x1="450.5" y1="300.0" x2="450.5" y2="310.4"/>
<rect x="449.5" y="304.0" width="2" height="1.6" fill="#000"/>
<line x1="452.5" y1="281.2" x2="452.5" y2="306.4"/>
<rect x="451.5" y="283.0" width="2" height="23.4" fill="#fff"/>
<line x1="455.5" y1="271.6" x2="455.5" y2="287.0"/>
<rect x="454.5" y="285.0" width="2" height="2.0" fill="#fff"/>
<line x1="458.5" y1="279.6" x2="458.5" y2="292.8"/>
<rect x="457.5" y="285.6" width="2" height="7.2" fill="#000"/>
<line x1="460.5" y1="293.6" x2="460.5" y2="308.8"/>
<rect x="459.5" y="293.6" width="2" height="11.2" fill="#000"/>
<line x1="463.5" y1="299.0" x2="463.5" y2="327.0"/>
<rect x="462.5" y="307.0" width="2" height="20.0" fill="#000"/>
<line x1="465.5" y1="326.4" x2="465.5" y2="345.6"/>
<rect x="464.5" y="331.0" width="2" height="7.4" fill="#000"/>
<line x1="468.5" y1="326.4" x2="468.5" y2="344.0"/>
<rect x="467.5" y="338.0" width="2" height="2.0" fill="#000"/>
<line x1="470.5" y1="331.0" x2="470.5" y2="364.0"/>
<rect x="469.5" y="331.0" width="2" height="33.0" fill="#000"/>
<line x1="473.5" y1="330.4" x2="473.5" y2="364.0"/>
<rect x="472.5" y="330.4" width="2" height="33.6" fill="#fff"/>
<line x1="475.5" y1="272.4" x2="475.5" y2="332.0"/>
<rect x="474.5" y="312.8" width="2" height="19.2" fill="#fff"/>
<line x1="478.5" y1="295.0" x2="478.5" y2="319.0"/>
<rect x="477.5" y="295.0" width="2" height="17.0" fill="#000"/>
<line x1="480.5" y1="293.6" x2="480.5" y2="308.0"/>
<rect x="479.5" y="293.6" width="2" height="14.4" fill="#000"/>
<line x1="483.5" y1="302.4" x2="483.5" y2="313.6"/>
<rect x="482.5" y="302.4" width="2" height="6.4" fill="#fff"/>
<line x1="486.5" y1="290.4" x2="486.5" y2="303.2"/>
<rect x="485.5" y="290.4" width="2" height="9.6" fill="#fff"/>
<line x1="488.5" y1="282.8" x2="488.5" y2="294.0"/>
<rect x="487.5" y="289.0" width="2" height="5.0" fill="#fff"/>
<line x1="491.5" y1="275.6" x2="491.5" y2="296.4"/>
<rect x="490.5" y="275.6" width="2" height="17.4" fill="#fff"/>
<line x1="493.5" y1="249.2" x2="493.5" y2="275.6"/>
<rect x="492.5" y="254.0" width="2" height="21.6" fill="#fff"/>
<line x1="496.5" y1="228.4" x2="496.5" y2="254.0"/>
<rect x="495.5" y="236.4" width="2" height="17.6" fill="#fff"/>
<line x1="498.5" y1="218.0" x2="498.5" y2="234.8"/>
<rect x="497.5" y="223.6" width="2" height="9.4" fill="#fff"/>
<line x1="501.5" y1="221.0" x2="501.5" y2="232.4"/>
<rect x="500.5" y="227.6" width="2" height="4.8" fill="#000"/>
<line x1="503.5" y1="228.4" x2="503.5" y2="241.0"/>
<rect x="502.5" y="228.4" width="2" height="12.6" fill="#000"/>
<line x1="506.5" y1="224.4" x2="506.5" y2="242.0"/>
<rect x="505.5" y="224.4" width="2" height="17.6" fill="#fff"/>
<line x1="508.5" y1="239.6" x2="508.5" y2="252.4"/>
<rect x="507.5" y="239.6" width="2" height="2.4" fill="#000"/>
<line x1="511.5" y1="235.6" x2="511.5" y2="242.0"/>
<rect x="510.5" y="238.8" width="2" height="3.2" fill="#000"/>
<line x1="514.5" y1="229.0" x2="514.5" y2="244.4"/>
<rect x="513.5" y="237.0" width="2" height="5.0" fill="#fff"/>
<line x1="516.5" y1="226.0" x2="516.5" y2="239.6"/>
<rect x="515.5" y="237.0" width="2" height="2.6" fill="#fff"/>
<line x1="519.5" y1="234.0" x2="519.5" y2="246.0"/>
<rect x="518.5" y="237.0" width="2" height="9.0" fill="#000"/>
<line x1="521.5" y1="240.4" x2="521.5" y2="251.6"/>
<rect x="520.5" y="240.4" width="2" height="7.2" fill="#000"/>
<line x1="524.5" y1="243.6" x2="524.5" y2="250.8"/>
<rect x="523.5" y="247.6" width="2" height="3.2" fill="#000"/>
<line x1="526.5" y1="251.6" x2="526.5" y2="278.0"/>
<rect x="525.5" y="251.6" width="2" height="26.4" fill="#000"/>
<line x1="529.5" y1="267.0" x2="529.5" y2="280.0"/>
<rect x="528.5" y="276.0" width="2" height="4.0" fill="#000"/>
<line x1="531.5" y1="278.4" x2="531.5" y2="285.6"/>
<rect x="530.5" y="278.4" width="2" height="3.2" fill="#000"/>
<line x1="534.5" y1="276.0" x2="534.5" y2="279.0"/>
<rect x="533.5" y="276.0" width="2" height="3.0" fill="#fff"/>
<line x1="536.5" y1="256.0" x2="536.5" y2="285.6"/>
<rect x="535.5" y="256.0" width="2" height="20.8" fill="#fff"/>
<line x1="539.5" y1="244.8" x2="539.5" y2="264.8"/>
<rect x="538.5" y="259.0" width="2" height="5.8" fill="#000"/>
<line x1="542.5" y1="260.0" x2="542.5" y2="272.0"/>
<rect x="541.5" y="264.0" width="2" height="8.0" fill="#000"/>
<line x1="544.5" y1="268.8" x2="544.5" y2="288.0"/>
<rect x="543.5" y="268.8" width="2" height="19.2" fill="#000"/>
<line x1="547.5" y1="270.4" x2="547.5" y2="301.6"/>
<rect x="546.5" y="270.4" width="2" height="17.6" fill="#fff"/>
<line x1="549.5" y1="260.0" x2="549.5" y2="280.0"/>
<rect x="548.5" y="268.8" width="2" height="11.2" fill="#000"/>
<line x1="552.5" y1="274.4" x2="552.5" y2="303.2"/>
<rect x="551.5" y="274.4" width="2" height="28.8" fill="#000"/>
<line x1="554.5" y1="300.8" x2="554.5" y2="322.6"/>
<rect x="553.5" y="300.8" width="2" height="21.8" fill="#000"/>
<line x1="557.5" y1="312.0" x2="557.5" y2="322.2"/>
<rect x="556.5" y="313.0" width="2" height="9.2" fill="#fff"/>
<line x1="559.5" y1="314.0" x2="559.5" y2="327.6"/>
<rect x="558.5" y="314.0" width="2" height="10.6" fill="#000"/>
<line x1="562.5" y1="322.4" x2="562.5" y2="347.6"/>
<rect x="561.5" y="324.0" width="2" height="23.6" fill="#000"/>
<line x1="565.5" y1="346.0" x2="565.5" y2="353.2"/>
<rect x="564.5" y="351.0" width="2" height="1.4" fill="#fff"/>
<line x1="567.5" y1="350.0" x2="567.5" y2="366.0"/>
<rect x="566.5" y="350.0" width="2" height="16.0" fill="#000"/>
<line x1="570.5" y1="332.4" x2="570.5" y2="365.2"/>
<rect x="569.5" y="332.4" width="2" height="32.8" fill="#fff"/>
<line x1="572.5" y1="333.0" x2="572.5" y2="343.6"/>
<rect x="571.5" y="333.0" width="2" height="10.6" fill="#000"/>
<line x1="575.5" y1="337.2" x2="575.5" y2="353.0"/>
<rect x="574.5" y="341.0" width="2" height="12.0" fill="#000"/>
<line x1="577.5" y1="340.4" x2="577.5" y2="356.4"/>
<rect x="576.5" y="340.4" width="2" height="16.0" fill="#000"/>
<line x1="580.5" y1="350.8" x2="580.5" y2="364.4"/>
<rect x="579.5" y="356.4" width="2" height="2.4" fill="#000"/>
<line x1="582.5" y1="350.8" x2="582.5" y2="358.8"/>
<rect x="581.5" y="354.0" width="2" height="3.2" fill="#000"/>
<line x1="585.5" y1="350.0" x2="585.5" y2="359.6"/>
<rect x="584.5" y="350.0" width="2" height="5.6" fill="#fff"/>
<line x1="587.5" y1="344.4" x2="587.5" y2="356.4"/>
<rect x="586.5" y="346.0" width="2" height="4.0" fill="#fff"/>
<line x1="590.5" y1="334.0" x2="590.5" y2="355.6"/>
<rect x="589.5" y="342.8" width="2" height="6.4" fill="#fff"/>
<line x1="592.5" y1="342.0" x2="592.5" y2="347.6"/>
<rect x="591.5" y="342.0" width="2" height="5.6" fill="#fff"/>
<line x1="594.5" y1="330.0" x2="594.5" y2="346.8"/>
<rect x="593.5" y="338.8" width="2" height="8.0" fill="#fff"/>
<line x1="596.5" y1="312.4" x2="596.5" y2="339.6"/>
<rect x="595.5" y="321.2" width="2" height="18.4" fill="#fff"/>
<line x1="598.5" y1="319.6" x2="598.5" y2="359.6"/>
<rect x="597.5" y="319.6" width="2" height="40.0" fill="#000"/>
<line x1="600.5" y1="356.4" x2="600.5" y2="447.8"/>
<rect x="599.5" y="356.4" width="2" height="81.1" fill="#000"/>
</g>
<path d="M0.0,39.0 C0.8,39.6 -0.5,40.3 5.0,42.8 C10.5,45.3 24.0,50.1 33.0,54.0 C42.0,57.9 51.7,61.5 59.0,66.0 C66.3,70.5 70.6,76.0 77.0,81.3 C83.4,86.6 90.6,92.9 97.4,98.0 C104.2,103.1 110.3,107.3 118.0,112.0 C125.7,116.7 135.9,121.5 143.6,126.0 C151.3,130.5 157.9,135.3 164.0,139.0 C170.1,142.7 172.2,143.3 180.0,148.0 C187.8,152.7 200.1,161.0 210.8,167.2 C221.5,173.4 233.3,179.0 244.0,185.0 C254.7,191.0 265.6,197.8 275.0,203.0 C284.4,208.2 292.4,212.3 300.5,216.0 C308.6,219.7 316.8,221.8 323.6,225.0 C330.4,228.2 336.4,232.5 341.5,235.0 C346.6,237.5 348.0,237.5 354.4,240.0 C360.8,242.5 370.7,247.3 380.0,250.0 C389.3,252.7 402.1,254.8 410.4,256.0 C418.7,257.2 424.7,256.7 429.6,257.3 C434.5,257.9 437.3,258.9 440.0,259.5 C442.7,260.1 442.3,260.5 446.0,261.2 C449.7,261.9 457.2,262.7 462.0,263.6 C466.8,264.5 470.0,266.0 474.8,266.8 C479.6,267.6 485.5,268.5 490.8,268.4 C496.1,268.3 501.5,266.7 506.8,266.0 C512.1,265.3 517.9,264.6 522.8,264.4 C527.7,264.2 531.1,264.6 536.0,264.8 C540.9,265.0 546.7,264.8 552.0,265.6 C557.3,266.4 562.7,268.1 568.0,269.6 C573.3,271.1 578.6,272.8 584.0,274.4 C589.4,276.0 597.8,278.2 600.5,279.0" fill="none" stroke="#f44336" stroke-width="1.1" stroke-linejoin="round"/>
<path d="M0.0,109.0 C1.4,110.1 5.7,114.0 8.6,115.8 C11.5,117.6 14.9,118.3 17.3,120.0 C19.7,121.7 20.4,123.9 23.0,125.8 C25.6,127.7 29.6,129.7 33.0,131.6 C36.4,133.5 40.3,135.3 43.2,137.3 C46.1,139.3 47.6,140.7 50.4,143.8 C53.2,146.9 56.4,150.0 60.0,156.0 C63.6,162.0 67.3,169.7 72.0,180.0 C76.7,190.3 83.3,208.1 88.0,217.6 C92.7,227.1 95.3,230.3 100.0,237.0 C104.7,243.7 112.8,254.3 116.0,258.0 C119.2,261.7 116.7,258.8 119.0,259.0 C121.3,259.2 125.8,258.0 130.0,259.0 C134.2,260.0 140.3,263.0 144.4,264.8 C148.5,266.6 150.9,267.2 154.8,269.6 C158.7,272.0 163.9,276.8 167.6,279.0 C171.3,281.2 173.5,280.8 177.0,283.0 C180.5,285.2 184.9,289.2 188.4,292.0 C191.9,294.8 194.2,297.8 198.0,300.0 C201.8,302.2 205.8,303.4 211.2,305.0 C216.6,306.6 224.1,307.0 230.4,309.6 C236.7,312.2 243.9,318.5 248.8,320.8 C253.7,323.1 255.8,321.2 260.0,323.5 C264.2,325.8 269.9,332.1 274.0,334.8 C278.1,337.6 280.4,338.9 284.4,340.0 C288.4,341.1 293.3,341.3 298.0,341.2 C302.7,341.1 307.9,339.5 312.4,339.6 C316.9,339.7 320.4,340.0 325.2,342.0 C330.0,344.0 336.4,349.8 341.2,351.6 C346.0,353.4 349.7,352.9 354.0,352.8 C358.3,352.7 362.8,350.9 366.8,351.2 C370.8,351.5 375.1,354.5 378.0,354.4 C380.9,354.3 381.7,352.7 384.4,350.4 C387.1,348.1 390.5,342.9 394.0,340.8 C397.5,338.7 401.7,339.1 405.2,337.6 C408.7,336.1 410.7,334.9 414.8,332.0 C418.9,329.1 427.2,322.3 430.0,320.0 C432.8,317.7 428.8,318.8 431.4,318.4 C434.0,318.0 441.3,318.4 445.8,317.6 C450.3,316.8 455.4,314.1 458.6,313.6 C461.8,313.1 462.5,313.6 465.0,314.4 C467.5,315.2 470.3,318.1 473.8,318.4 C477.3,318.7 482.2,317.6 485.8,316.0 C489.4,314.4 492.2,312.1 495.4,308.8 C498.6,305.5 501.8,299.5 505.0,296.0 C508.2,292.5 511.3,290.4 514.6,288.0 C517.9,285.6 522.0,282.4 525.0,281.3 C528.0,280.2 530.4,281.7 532.8,281.3 C535.2,280.9 536.4,279.6 539.2,279.2 C542.0,278.8 546.7,278.4 549.6,279.2 C552.5,280.0 553.7,281.7 556.8,284.0 C559.9,286.3 563.5,289.3 568.0,292.8 C572.5,296.3 579.5,301.9 584.0,304.8 C588.5,307.7 592.8,309.0 595.2,310.4 C597.6,311.8 597.6,312.0 598.5,313.0 C599.4,314.0 600.2,315.9 600.5,316.5" fill="none" stroke="#1a3cff" stroke-width="1.1" stroke-linejoin="round"/>
<rect x="0" y="508" width="780" height="3" fill="#e0e0e0"/>
<line x1="721.5" y1="0" x2="721.5" y2="625" stroke="#dcdcdc" stroke-width="1" shape-rendering="crispEdges"/>
<g stroke="#8a8a8a" stroke-width="1" shape-rendering="crispEdges">
<line x1="722" y1="60.5" x2="726" y2="60.5"/>
<line x1="722" y1="144.5" x2="726" y2="144.5"/>
<line x1="722" y1="244.5" x2="726" y2="244.5"/>
<line x1="722" y1="278.5" x2="726" y2="278.5"/>
<line x1="722" y1="314.5" x2="726" y2="314.5"/>
<line x1="722" y1="352.5" x2="726" y2="352.5"/>
<line x1="722" y1="394.5" x2="726" y2="394.5"/>
<line x1="722" y1="471.5" x2="726" y2="471.5"/>
<line x1="722" y1="505.5" x2="726" y2="505.5"/>
<line x1="722" y1="534.5" x2="726" y2="534.5"/>
<line x1="722" y1="564.5" x2="726" y2="564.5"/>
<line x1="722" y1="594.5" x2="726" y2="594.5"/>
</g>
<g class="ax">
<text x="731.5" y="64.0">14,000</text>
<text x="731.5" y="148.0">12,000</text>
<text x="731.5" y="248.0">10,000</text>
<text x="731.5" y="282.0">9,400</text>
<text x="731.5" y="318.0">8,800</text>
<text x="731.5" y="356.0">8,200</text>
<text x="731.5" y="398.0">7,600</text>
<text x="731.5" y="475.0">6,600</text>
</g>
<clipPath id="c1"><rect x="700" y="480" width="80" height="28"/></clipPath>
<g class="ax" clip-path="url(#c1)"><text x="731.5" y="509">6,200</text></g>
<clipPath id="c2"><rect x="700" y="511" width="80" height="114"/></clipPath>
<g class="ax" clip-path="url(#c2)">
<text x="731.5" y="538">600,00k</text>
<text x="731.5" y="568">400,00k</text>
<text x="731.5" y="598">200,00k</text>
</g>
<g stroke="#333" stroke-width="1" shape-rendering="crispEdges">
<line x1="55.5" y1="504" x2="55.5" y2="508"/>
<line x1="210.5" y1="504" x2="210.5" y2="508"/>
<line x1="379.5" y1="504" x2="379.5" y2="508"/>
<line x1="536.5" y1="504" x2="536.5" y2="508"/>
</g>
<g class="tx" text-anchor="middle">
<text x="56.5" y="501.5">Apr</text>
<text x="211" y="501.5">Jul</text>
<text x="379.5" y="501.5">Okt</text>
<text x="537.5" y="501.5">Jan '26</text>
</g>
<path d="M721,438.5 L729,429.0 L780,429.0 L780,448.0 L729,448.0 Z" fill="#000"/>
<text x="731.8" y="442.5" font-size="12" fill="#fff">7,020</text>
<path d="M721,542.5 L729,533.0 L780,533.0 L780,552.0 L729,552.0 Z" fill="#2a9cc4"/>
<text x="731.8" y="546.5" font-size="12" fill="#000">548,64k</text>
<g fill="#fff" fill-opacity="0.8">
<rect x="4" y="4" width="392" height="16"/>
<rect x="4" y="20" width="100" height="16"/>
<rect x="4" y="36" width="106" height="16"/>
<rect x="4" y="52" width="221" height="16"/>
</g>
<rect x="4.5" y="515.8" width="171" height="16" fill="#fff" fill-opacity="0.85"/>
<g stroke="#000" stroke-width="1.15" fill="#fff">
<line x1="7.5" y1="13.4" x2="7.5" y2="17.6"/><rect x="6.5" y="9.4" width="2" height="4" rx="0.4"/>
<line x1="11.5" y1="7.1" x2="11.5" y2="17.7"/><rect x="10.5" y="11.4" width="2" height="4" rx="0.4"/>
<line x1="15.5" y1="9.2" x2="15.5" y2="13.5"/><rect x="14.5" y="13.5" width="2" height="3.9" rx="0.4"/>
</g>
<g class="lg">
<text x="23" y="16.2" fill="#111">Stellantis N.V. (Tradegate BSX, Last)</text>
<text x="209" y="16.2" fill="#111">O: 8,142</text>
<text x="257" y="16.2" fill="#111">H: 8,142</text>
<text x="304.5" y="16.2" fill="#111">L: 6,890</text>
<text x="350" y="16.2" fill="#111">C: 7,020</text>
<rect x="9" y="28" width="8" height="3" fill="#0a28ff"/>
<text x="23" y="32.2" fill="#1a3cff">EMA(50)</text>
<text x="72.3" y="32.2" fill="#1a3cff">8,762</text>
<rect x="9" y="44" width="8" height="3" fill="#f23a26"/>
<text x="23" y="48.2" fill="#f44336">EMA(200)</text>
<text x="78.2" y="48.2" fill="#f44336">9,380</text>
<circle cx="12.5" cy="60.55" r="5" fill="none" stroke="#3a3a3a" stroke-width="1.15"/>
<path d="M12.5,57.5 V60.8 L14.6,62.5" fill="none" stroke="#3a3a3a" stroke-width="1.1" stroke-linecap="round" stroke-linejoin="round"/>
<text x="23" y="64.2" fill="#555">28.02.2025 - 06.02.2026</text>
<text x="151.5" y="64.2" fill="#555">(1 Jahr, 1 Tag)</text>
<g fill="#e53935"><rect x="7" y="521.5" width="3" height="6"/><rect x="11" y="518.5" width="3" height="9"/><rect x="15" y="524" width="3" height="3.5"/></g>
<text x="23" y="527.8" fill="#e53935">Volumen(1)</text>
<text x="85" y="527.8" fill="#e53935">548,64k</text>
<text x="130" y="527.8" fill="#2a9fd0">548,64k</text>
</g>
</svg></body></html>
